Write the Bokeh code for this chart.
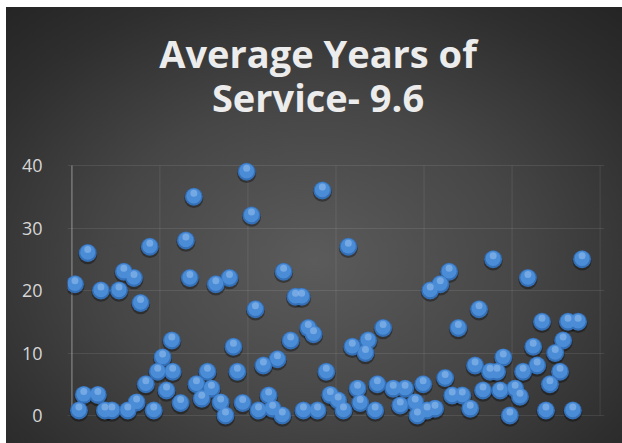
from bokeh.plotting import figure
from bokeh.models import Range1d, FixedTicker
from bokeh.core.properties import value
from bokeh.embed import file_html
from bokeh.resources import INLINE

# ---- data ----
employee = [
    0.7, 1.6, 2.7, 3.6, 5.9, 6.6, 7.5, 9.1, 10.7, 11.8,
    12.7, 14.1, 14.7, 15.6, 16.8, 17.7, 18.6, 19.5, 20.6, 21.5,
    22.7, 22.9, 24.7, 25.9, 26.8, 27.7, 28.3, 29.5, 30.8, 31.7,
    32.7, 33.8, 34.9, 35.8, 36.7, 37.6, 38.8, 39.7, 40.8, 41.7,
    42.4, 43.5, 44.7, 45.6, 46.7, 47.8, 48.1, 49.7, 50.8, 52.2,
    52.6, 53.7, 54.9, 55.8, 56.9, 57.8, 58.7, 60.5, 61.7, 62.8,
    63.7, 64.9, 65.5, 66.7, 67.3, 68.9, 69.4, 70.7, 73.0, 74.6,
    75.7, 78.0, 78.5, 79.8, 80.7, 81.4, 82.5, 83.7, 84.8, 85.7,
    86.4, 87.8, 88.7, 90.5, 91.6, 92.5, 93.4, 95.0, 95.7, 96.6,
    97.3, 98.0, 99.5, 100.7, 101.8, 102.5, 103.6, 104.8, 105.7, 106.8,
    107.7, 108.6, 109.8, 110.9, 111.6, 112.7, 113.8, 115.0, 115.9,
]
years = [
    21, 0.8, 3.3, 26, 3.3, 20, 0.8, 0.8, 20, 23,
    0.8, 22, 2.1, 18, 5, 27, 0.8, 7, 9.3, 4,
    12, 7, 2, 28, 22, 35, 5, 2.7, 7, 4.3,
    21, 2.1, 0, 22, 11, 7, 2, 39, 32, 17,
    0.8, 8, 3.2, 1.1, 9, 0, 23, 12, 19, 19,
    0.8, 14, 13, 0.8, 36, 7, 3.3, 2.4, 0.8, 27,
    11, 4.3, 2, 10, 12, 0.8, 5, 14, 4.3, 1.6,
    4.3, 2.1, 0, 5, 0.8, 20, 1.1, 21, 6, 23,
    3.2, 14, 3.2, 1.1, 8, 17, 4, 7, 25, 7,
    4, 9.3, 0, 4.3, 3, 7, 22, 11, 8, 15,
    0.8, 5, 10, 7, 12, 15, 0.8, 15, 25,
]
y_ticks = [0, 10, 20, 30, 40]
x_grid = [0, 20, 40, 60, 80, 100, 120]
title_lines = ["Average Years of", "Service- 9.6"]

# ---- layout constants (pixels) ----
PX_X = 4.41      # pixels per x unit
PX_Y = 6.25      # pixels per y unit
X0, X1 = -1, 121
Y0 = -2.4
FRAME_H = 423
Y1 = Y0 + FRAME_H / PX_Y

p = figure(
    width=616, height=436,
    x_range=Range1d(X0, X1), y_range=Range1d(Y0, Y1),
    output_backend="svg", toolbar_location=None, title=None,
    min_border_left=61, min_border_right=18,
    min_border_top=0, min_border_bottom=13,
)
p.margin = (7, 0, 0, 6)
p.styles = {"background": "radial-gradient(ellipse 75% 80% at 50% 58%, #5b5b5b 0%, #464646 45%, #2e2e2e 80%, #242424 100%)"}
p.background_fill_alpha = 0
p.border_fill_alpha = 0
p.outline_line_color = None

# axes
p.xaxis.visible = False
ya = p.yaxis[0]
ya.ticker = FixedTicker(ticks=y_ticks)
ya.axis_line_color = None
ya.major_tick_line_color = None
ya.minor_tick_line_color = None
ya.major_label_standoff = 19
ya.major_label_text_font = "Open Sans"
ya.major_label_text_font_size = "18px"
ya.major_label_text_color = "#d6d6d6"

# grid: horizontal lines from the tick list, vertical lines spanning the tick range
p.ygrid.ticker = FixedTicker(ticks=y_ticks)
p.ygrid.grid_line_color = "#ffffff"
p.ygrid.grid_line_alpha = 0.09
p.xgrid.visible = False
n = len(x_grid)
p.segment(x0=x_grid[1:], y0=[y_ticks[0]] * (n - 1), x1=x_grid[1:], y1=[y_ticks[-1]] * (n - 1),
          line_color="#ffffff", line_alpha=0.09, line_width=1)
# vertical axis line at x = 0
p.segment(x0=[x_grid[0]], y0=[y_ticks[0]], x1=[x_grid[0]], y1=[y_ticks[-1]],
          line_color="#a8a8a8", line_alpha=0.55, line_width=1.5)

# title (two centred lines above the y = 40 line)
title_x = X0 + (318 - 67) / PX_X
title_y = [y_ticks[-1] + (165 - 52) / PX_Y, y_ticks[-1] + (165 - 96) / PX_Y]
p.text(x=[title_x, title_x], y=title_y, text=title_lines,
       text_align="center", text_baseline="alphabetic",
       text_font=value("Open Sans"), text_font_style="bold",
       text_font_size="38px", text_color="#ececec")

# spheres
unit = 1.0 / PX_Y
shadow_y = [v - 1.8 * unit for v in years]
hi_y = [v + 3.5 * unit for v in years]
mid_y = [v + 0.8 * unit for v in years]
p.scatter(employee, shadow_y, size=19, fill_color="#000000", fill_alpha=0.35, line_color=None)
p.scatter(employee, years, size=18, fill_color="#3470b8", line_color=None)
p.scatter(employee, mid_y, size=15, fill_color="#4d8dd8", fill_alpha=0.95, line_color=None)
p.scatter(employee, hi_y, size=7, fill_color="#a9cdf5", fill_alpha=0.45, line_color=None)

open("out.html", "w").write(file_html(p, INLINE))
